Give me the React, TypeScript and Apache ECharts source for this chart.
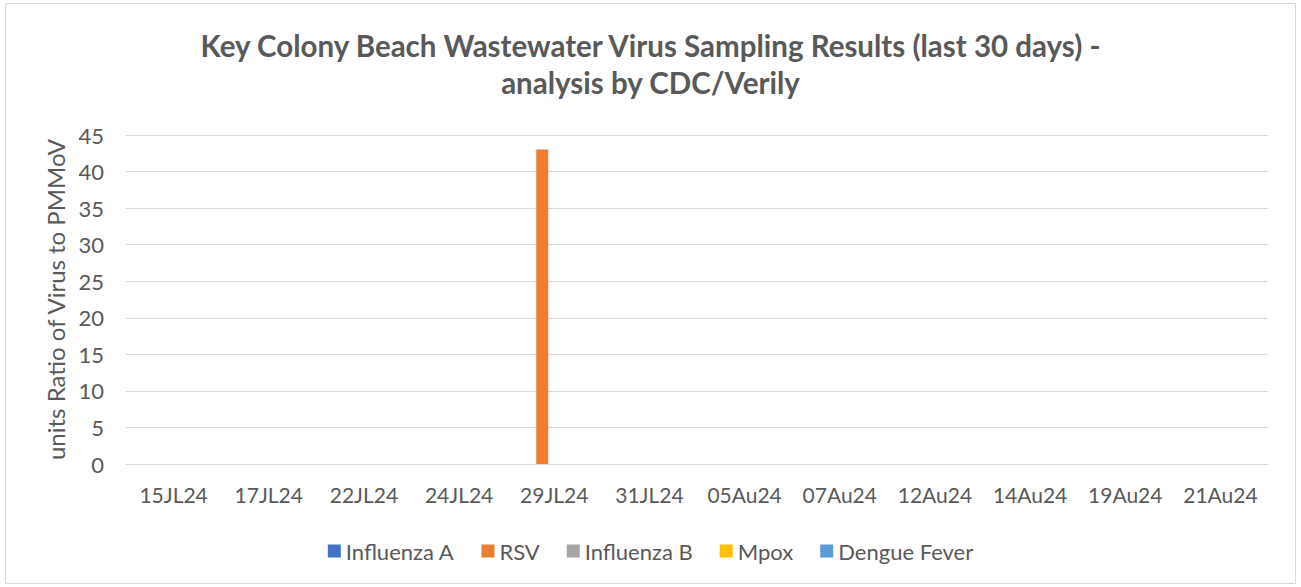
import React, { useEffect, useRef } from "react";
import * as echarts from "echarts";

const categories = ["15JL24", "17JL24", "22JL24", "24JL24", "29JL24", "31JL24", "05Au24", "07Au24", "12Au24", "14Au24", "19Au24", "21Au24"];
const influenzaA = [0, 0, 0, 0, 0, 0, 0, 0, 0, 0, 0, 0];
const rsv = [0, 0, 0, 0, 43, 0, 0, 0, 0, 0, 0, 0];
const influenzaB = [0, 0, 0, 0, 0, 0, 0, 0, 0, 0, 0, 0];
const mpox = [0, 0, 0, 0, 0, 0, 0, 0, 0, 0, 0, 0];
const dengue = [0, 0, 0, 0, 0, 0, 0, 0, 0, 0, 0, 0];

const seriesNames = ["Influenza A", "RSV", "Influenza B", "Mpox", "Dengue Fever"];
const seriesData = [influenzaA, rsv, influenzaB, mpox, dengue];
const colors = ["#4472C4", "#ED7D31", "#A5A5A5", "#FFC000", "#5B9BD5"];

const FONT = "Lato, 'Open Sans', sans-serif";
const GREY = "#595959";

export default function App() {
  const ref = useRef<HTMLDivElement>(null);
  useEffect(() => {
    const chart = echarts.init(ref.current!, null, { renderer: "svg" });
    chart.setOption({
      animation: false,
      backgroundColor: "#ffffff",
      color: colors,
      title: {
        text: "Key Colony Beach Wastewater Virus Sampling Results (last 30 days) -\nanalysis by CDC/Verily",
        left: "center",
        top: 22,
        textStyle: { fontFamily: FONT, fontWeight: "bold", fontSize: 29.5, color: GREY, lineHeight: 37 },
      },
      graphic: [
        {
          type: "rect",
          shape: { x: 5.5, y: 3.5, width: 1290, height: 580 },
          style: { fill: "none", stroke: "#d9d9d9", lineWidth: 1 },
          silent: true,
        },
      ],
      legend: {
        data: seriesNames,
        bottom: 20,
        left: "center",
        itemWidth: 13,
        itemHeight: 13,
        itemGap: 27,
        icon: "rect",
        textStyle: { fontFamily: FONT, fontSize: 22, color: GREY },
      },
      grid: { left: 126, right: 33, top: 135, bottom: 123, containLabel: false },
      xAxis: {
        type: "category",
        data: categories,
        axisLine: { show: true, lineStyle: { color: "#d9d9d9" } },
        axisTick: { show: false },
        axisLabel: { fontFamily: FONT, fontSize: 21, color: GREY, margin: 20, interval: 0 },
      },
      yAxis: {
        type: "value",
        min: 0,
        max: 45,
        interval: 5,
        name: "units Ratio of Virus to PMMoV",
        nameLocation: "middle",
        nameGap: 58,
        nameTextStyle: { fontFamily: FONT, fontSize: 24, color: GREY },
        axisLine: { show: false },
        axisTick: { show: false },
        splitLine: { lineStyle: { color: "#d9d9d9", width: 1 } },
        axisLabel: { fontFamily: FONT, fontSize: 22, color: GREY, margin: 22 },
      },
      series: seriesNames.map((name, i) => ({
        name,
        type: "bar",
        data: seriesData[i],
        barWidth: 12,
        barGap: "0%",
      })),
    });
    return () => chart.dispose();
  }, []);
  return <div ref={ref} style={{ position: "fixed", left: 0, top: 0, width: 1301, height: 587 }} />;
}
